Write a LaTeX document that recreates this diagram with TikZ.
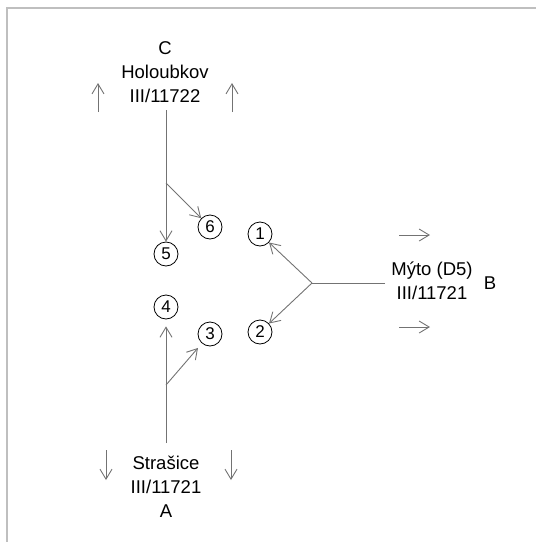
\documentclass[tikz,border=0pt]{standalone}
\usepackage{fontspec}
\setmainfont{Liberation Sans}
\usetikzlibrary{arrows.meta, calc}

\begin{document}
\begin{tikzpicture}[x=1pt, y=-1pt, >={Straight Barb[length=10pt, width=12pt]}, every node/.style={font=\fontsize{18.5}{24}\selectfont},
  road/.style={draw=black!55, line width=0.9pt},
  num/.style={circle, draw, line width=0.8pt, inner sep=0pt, minimum size=24pt, font=\fontsize{17}{17}\selectfont}]
  \useasboundingbox (0,0) rectangle (536,542);
  \draw[black!25, line width=2.5pt] (7,542) -- (7,8) -- (536,8);
  % arms
  \node[align=center] (armC) at (165,72) {C\\Holoubkov\\III/11722};
  \node[align=center] (armB) at (432,281) {Mýto (D5)\\III/11721};
  \node (labB) at (490,283) {B};
  \node[align=center] (armA) at (166,487) {Strašice\\III/11721\\A};
  % numbered lanes
  \node[num] (n1) at (260,234) {1};
  \node[num] (n2) at (260,332) {2};
  \node[num] (n3) at (210,334) {3};
  \node[num] (n4) at (166,307) {4};
  \node[num] (n5) at (166,254) {5};
  \node[num] (n6) at (210,227) {6};
  % turning points
  \coordinate (topC) at (166,110);
  \coordinate (splitC) at (166,183);
  \coordinate (endB) at (385,283);
  \coordinate (splitB) at (312,283);
  \coordinate (botA) at (166,443);
  \coordinate (splitA) at (166,385);
  \draw[road, ->] (topC) -- (n5);
  \draw[road, ->] (splitC) -- (n6);
  \draw[road] (endB) -- (splitB);
  \draw[road, ->] (splitB) -- (n1);
  \draw[road, ->] (splitB) -- (n2);
  \draw[road, ->, shorten >=7pt] (botA) -- (n4);
  \draw[road, ->, shorten >=6pt] (splitA) -- (n3);
  % direction marks
  \draw[road, ->] (98,112) -- (98,83);
  \draw[road, ->] (232,112) -- (232,83);
  \draw[road, ->] (399,235) -- (430,235);
  \draw[road, ->] (399,327) -- (430,327);
  \draw[road, ->] (106,450) -- (106,480);
  \draw[road, ->] (231,450) -- (231,480);
\end{tikzpicture}
\end{document}
